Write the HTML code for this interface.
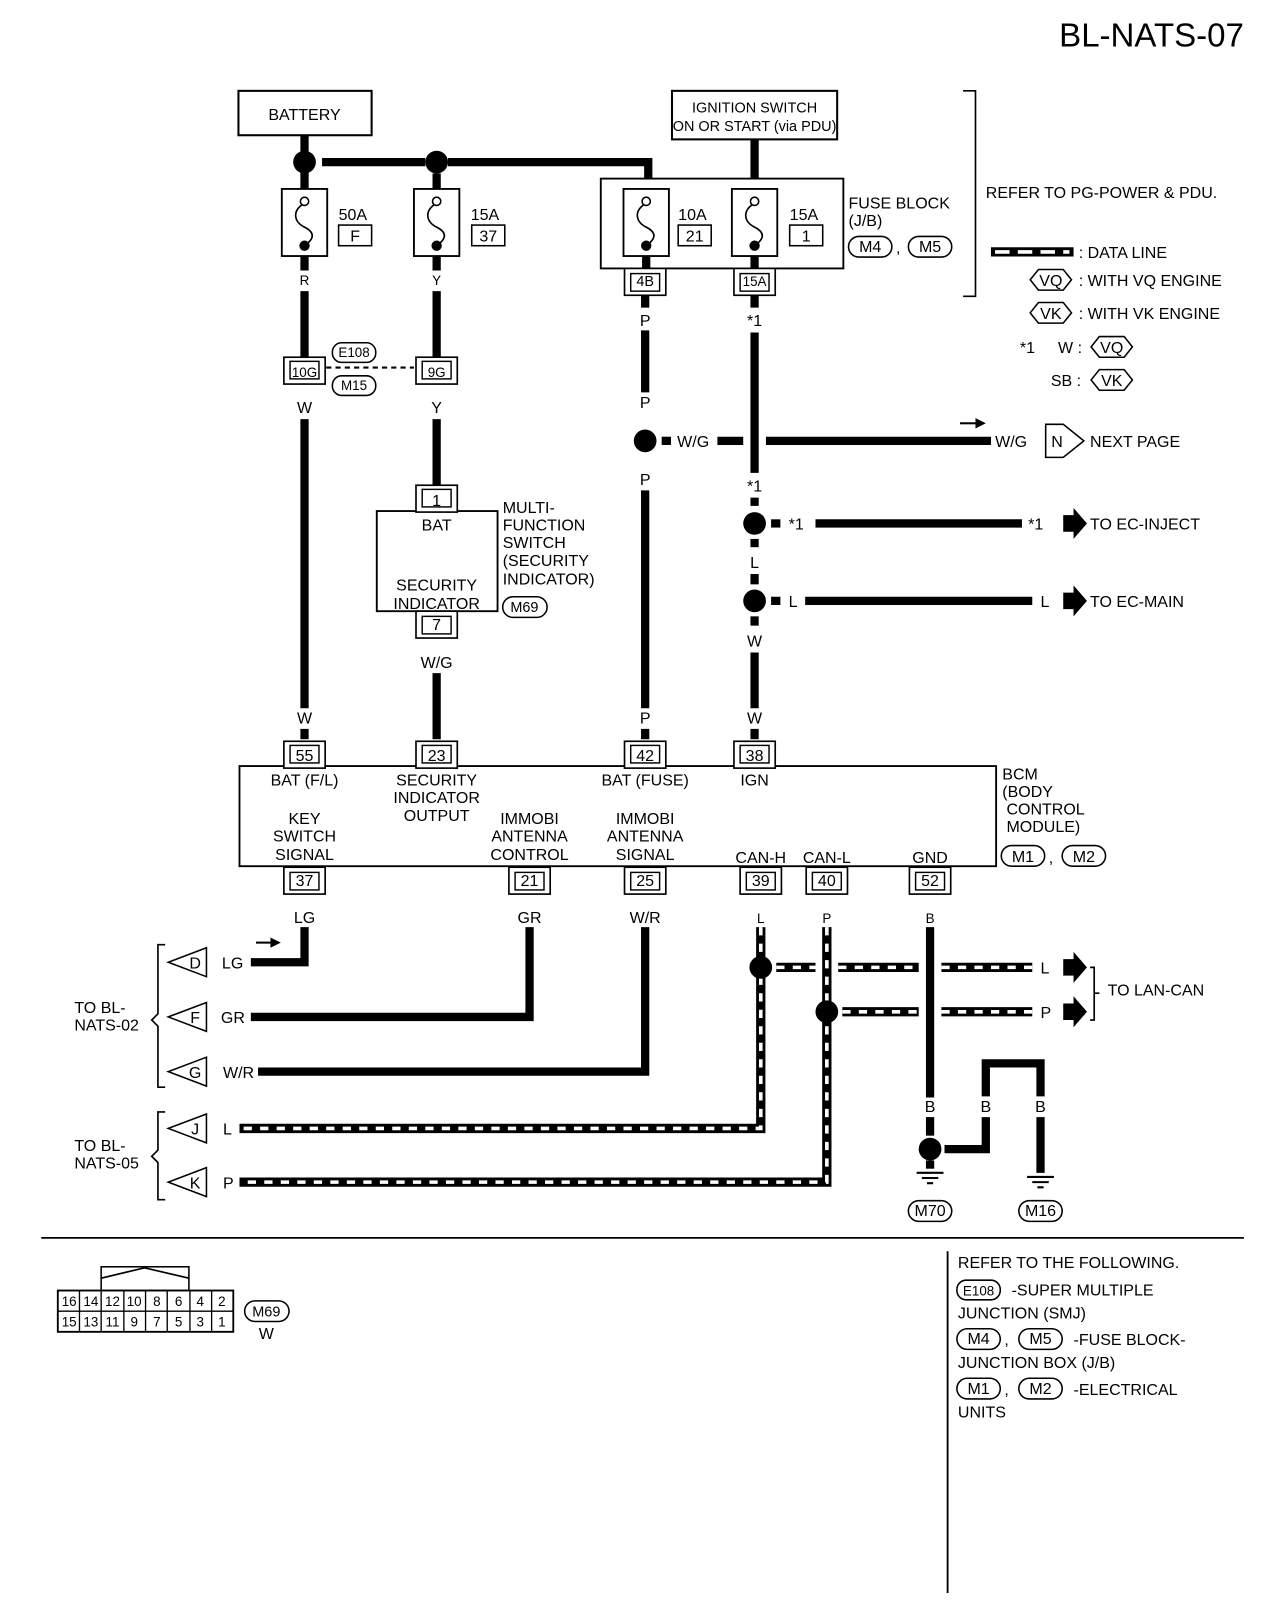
<!DOCTYPE html>
<html><head><meta charset="utf-8"><style>
html,body{margin:0;padding:0;background:#fff;}
svg{display:block}
text{font-family:"Liberation Sans",sans-serif;font-size:15.5px;fill:#000;}
.c{text-anchor:middle}
.w{stroke:#000;stroke-width:8;fill:none}
.t{stroke:#000;stroke-width:1.6;fill:none}
.dl{stroke:#000;stroke-width:9;fill:none}
.dw{stroke:#fff;stroke-width:3.5;stroke-dasharray:8 8;fill:none}
</style></head><body>
<svg width="1280" height="1624" viewBox="0 0 1240 1573" preserveAspectRatio="none" xmlns="http://www.w3.org/2000/svg">
<defs>
<g id="fuse"><rect x="-22" y="0" width="44" height="65" fill="#fff" stroke="#000" stroke-width="1.8"/><circle cx="0" cy="12" r="4" fill="#fff" stroke="#000" stroke-width="1.5"/><path d="M-2 15 C-12 22,-10 32,0 37 C10 42,10 48,0 55" class="t"/><circle cx="0" cy="55" r="5"/></g>
<g id="con"><rect x="-20" y="0" width="40" height="26" fill="#fff" stroke="#000" stroke-width="1.6"/><rect x="-14" y="4" width="28" height="17" fill="#fff" stroke="#000" stroke-width="1.4"/></g>
<g id="conb"><rect x="-20" y="0" width="40" height="26" fill="#fff" stroke="#000" stroke-width="1.6"/><rect x="-14" y="5" width="28" height="17" fill="#fff" stroke="#000" stroke-width="1.4"/></g>
</defs>

<text x="1205" y="45" style="font-size:32px" text-anchor="end">BL-NATS-07</text>

<!-- battery -->
<rect x="231" y="88" width="129" height="43" fill="#fff" stroke="#000" stroke-width="2"/>
<text class="c" x="295" y="116">BATTERY</text>
<path class="w" d="M295 131V183"/>
<path class="w" d="M312 157H412M434 157H628V183"/>
<circle cx="295" cy="157" r="11"/><circle cx="423" cy="157" r="11"/>
<path class="w" d="M423 168V183"/>
<use href="#fuse" x="295" y="183"/><use href="#fuse" x="423" y="183"/>
<text x="328" y="213">50A</text><rect x="328" y="218" width="32" height="20" fill="#fff" stroke="#000" stroke-width="1.5"/><text class="c" x="344" y="234">F</text>
<text x="456" y="213">15A</text><rect x="457" y="218" width="32" height="20" fill="#fff" stroke="#000" stroke-width="1.5"/><text class="c" x="473" y="234">37</text>
<path class="w" d="M295 248V262M423 248V262"/>
<text class="c" x="295" y="276" style="font-size:13px">R</text><text class="c" x="423" y="276" style="font-size:13px">Y</text>
<path class="w" d="M295 282V348M423 282V348"/>
<use href="#con" x="295" y="346"/><text class="c" x="295" y="365" style="font-size:13px">10G</text>
<use href="#con" x="423" y="346"/><text class="c" x="423" y="365" style="font-size:13px">9G</text>
<path d="M316 356H401" stroke="#000" stroke-width="2" stroke-dasharray="5 4"/>
<rect x="322" y="332" width="42" height="19" rx="9" fill="#fff" stroke="#000" stroke-width="1.5"/><text class="c" x="343" y="346" style="font-size:13px">E108</text>
<rect x="322" y="364" width="42" height="19" rx="9" fill="#fff" stroke="#000" stroke-width="1.5"/><text class="c" x="343" y="378" style="font-size:13px">M15</text>
<text class="c" x="295" y="400">W</text><text class="c" x="423" y="400">Y</text>
<path class="w" d="M295 406V686M423 406V472"/>
<path class="w" d="M295 706V716"/>

<!-- multi function switch -->
<rect x="365" y="495" width="117" height="97" fill="#fff" stroke="#000" stroke-width="1.8"/>
<use href="#con" x="423" y="470"/><text class="c" x="423" y="490">1</text>
<use href="#conb" x="423" y="592"/><text class="c" x="423" y="610">7</text>
<text class="c" x="423" y="514">BAT</text><text class="c" x="423" y="572">SECURITY</text><text class="c" x="423" y="590">INDICATOR</text>
<text x="487" y="497">MULTI-</text><text x="487" y="514">FUNCTION</text><text x="487" y="531">SWITCH</text><text x="487" y="548">(SECURITY</text><text x="487" y="566"> INDICATOR)</text>
<rect x="487" y="578" width="43" height="20" rx="10" fill="#fff" stroke="#000" stroke-width="1.5"/><text class="c" x="508" y="593" style="font-size:14px">M69</text>
<text class="c" x="423" y="647">W/G</text>
<path class="w" d="M423 652V716"/>

<!-- ignition + fuse block -->
<rect x="651" y="88" width="160" height="47" fill="#fff" stroke="#000" stroke-width="2"/>
<text class="c" x="731" y="109" style="font-size:14px">IGNITION SWITCH</text><text class="c" x="731" y="127" style="font-size:14px">ON OR START (via PDU)</text>
<path class="w" d="M731 135V183"/>
<rect x="582" y="173" width="235" height="87" fill="#fff" stroke="#000" stroke-width="1.8"/>
<use href="#fuse" x="626" y="183"/><use href="#fuse" x="731" y="183"/>
<text x="657" y="213">10A</text><rect x="657" y="218" width="32" height="20" fill="#fff" stroke="#000" stroke-width="1.5"/><text class="c" x="673" y="234">21</text>
<text x="765" y="213">15A</text><rect x="765" y="218" width="32" height="20" fill="#fff" stroke="#000" stroke-width="1.5"/><text class="c" x="781" y="234">1</text>
<path class="w" d="M626 248V260M731 248V260"/>
<use href="#conb" x="625" y="260"/><text class="c" x="625" y="277" style="font-size:14px">4B</text>
<use href="#conb" x="731" y="260"/><text class="c" x="731" y="277" style="font-size:13px">15A</text>
<path class="w" d="M625 286V298M731 286V298"/>
<text x="822" y="202">FUSE BLOCK</text><text x="822" y="219">(J/B)</text>
<rect x="822" y="229" width="42" height="20" rx="10" fill="#fff" stroke="#000" stroke-width="1.5"/><text class="c" x="843" y="244">M4</text>
<text x="868" y="245">,</text>
<rect x="880" y="229" width="42" height="20" rx="10" fill="#fff" stroke="#000" stroke-width="1.5"/><text class="c" x="901" y="244">M5</text>
<path class="t" d="M933 88H945V287H933"/>
<text x="955" y="192">REFER TO PG-POWER &amp; PDU.</text>

<!-- legend -->
<path class="dl" d="M960 244H1040"/><path class="dw" d="M964 244H1036" style="stroke-dasharray:14 8"/>
<text x="1045" y="250">: DATA LINE</text>
<path d="M998 271l8-10h24l8 10-8 10h-24z" fill="#fff" stroke="#000" stroke-width="1.5"/><text class="c" x="1018" y="277">VQ</text><text x="1045" y="277">: WITH VQ ENGINE</text>
<path d="M998 303l8-10h24l8 10-8 10h-24z" fill="#fff" stroke="#000" stroke-width="1.5"/><text class="c" x="1018" y="309">VK</text><text x="1045" y="309">: WITH VK ENGINE</text>
<text x="988" y="342">*1</text><text x="1025" y="342">W :</text>
<path d="M1057 336l8-10h24l8 10-8 10h-24z" fill="#fff" stroke="#000" stroke-width="1.5"/><text class="c" x="1077" y="342">VQ</text>
<text x="1018" y="374">SB :</text>
<path d="M1057 368l8-10h24l8 10-8 10h-24z" fill="#fff" stroke="#000" stroke-width="1.5"/><text class="c" x="1077" y="374">VK</text>

<!-- P wire -->
<text class="c" x="625" y="316">P</text>
<path class="w" d="M625 320V380"/>
<text class="c" x="625" y="395">P</text>
<circle cx="625" cy="427" r="11"/>
<path class="w" d="M641 427H650"/>
<text x="656" y="433">W/G</text>
<path class="w" d="M695 427H720M742 427H960"/>
<text x="964" y="433">W/G</text>
<path d="M1013 411L1030 411 1050 427 1030 443 1013 443z" fill="#fff" stroke="#000" stroke-width="1.5"/><text class="c" x="1024" y="433">N</text>
<text x="1056" y="433">NEXT PAGE</text>
<path d="M930 410H945" stroke="#000" stroke-width="2"/><path d="M945 405L955 410 945 415z"/>
<text class="c" x="625" y="470">P</text>
<path class="w" d="M625 475V686"/>
<text class="c" x="625" y="701">P</text>
<path class="w" d="M625 706V716"/>

<!-- IGN wire -->
<text class="c" x="731" y="316">*1</text>
<path class="w" d="M731 322V458"/>
<text class="c" x="731" y="476">*1</text>
<path class="w" d="M731 482V490"/>
<circle cx="731" cy="507" r="11"/>
<path class="w" d="M747 507H756"/><text x="764" y="513">*1</text>
<path class="w" d="M790 507H990"/><text x="996" y="513">*1</text>
<path d="M1030 499H1040V492L1053 507 1040 522V515H1030z"/><text x="1056" y="513">TO EC-INJECT</text>
<path class="w" d="M731 522V530"/><text class="c" x="731" y="550">L</text>
<path class="w" d="M731 556V566"/>
<circle cx="731" cy="582" r="11"/>
<path class="w" d="M747 582H756"/><text x="764" y="588">L</text>
<path class="w" d="M780 582H1000"/><text x="1008" y="588">L</text>
<path d="M1030 574H1040V567L1053 582 1040 597V590H1030z"/><text x="1056" y="588">TO EC-MAIN</text>
<path class="w" d="M731 597V606"/><text class="c" x="731" y="626">W</text>
<path class="w" d="M731 632V686"/><text class="c" x="731" y="701">W</text>
<path class="w" d="M731 706V716"/>
<text class="c" x="295" y="701">W</text>

<!-- BCM -->
<rect x="232" y="742" width="733" height="97" fill="#fff" stroke="#000" stroke-width="1.8"/>
<use href="#con" x="295" y="718"/><text class="c" x="295" y="737">55</text>
<use href="#con" x="423" y="718"/><text class="c" x="423" y="737">23</text>
<use href="#con" x="625" y="718"/><text class="c" x="625" y="737">42</text>
<use href="#con" x="731" y="718"/><text class="c" x="731" y="737">38</text>
<text class="c" x="295" y="761">BAT (F/L)</text>
<text class="c" x="423" y="761">SECURITY</text><text class="c" x="423" y="778">INDICATOR</text><text class="c" x="423" y="795">OUTPUT</text>
<text class="c" x="625" y="761">BAT (FUSE)</text>
<text class="c" x="731" y="761">IGN</text>
<text class="c" x="295" y="798">KEY</text><text class="c" x="295" y="815">SWITCH</text><text class="c" x="295" y="833">SIGNAL</text>
<text class="c" x="513" y="798">IMMOBI</text><text class="c" x="513" y="815">ANTENNA</text><text class="c" x="513" y="833">CONTROL</text>
<text class="c" x="625" y="798">IMMOBI</text><text class="c" x="625" y="815">ANTENNA</text><text class="c" x="625" y="833">SIGNAL</text>
<text class="c" x="737" y="836">CAN-H</text><text class="c" x="801" y="836">CAN-L</text><text class="c" x="901" y="836">GND</text>
<text x="971" y="755">BCM</text><text x="971" y="772">(BODY</text><text x="975" y="789">CONTROL</text><text x="975" y="806">MODULE)</text>
<rect x="970" y="819" width="42" height="20" rx="10" fill="#fff" stroke="#000" stroke-width="1.5"/><text class="c" x="991" y="835">M1</text>
<text x="1016" y="836">,</text>
<rect x="1029" y="819" width="42" height="20" rx="10" fill="#fff" stroke="#000" stroke-width="1.5"/><text class="c" x="1050" y="835">M2</text>
<use href="#conb" x="295" y="840"/><text class="c" x="295" y="858">37</text>
<use href="#conb" x="513" y="840"/><text class="c" x="513" y="858">21</text>
<use href="#conb" x="625" y="840"/><text class="c" x="625" y="858">25</text>
<use href="#conb" x="737" y="840"/><text class="c" x="737" y="858">39</text>
<use href="#conb" x="801" y="840"/><text class="c" x="801" y="858">40</text>
<use href="#conb" x="901" y="840"/><text class="c" x="901" y="858">52</text>
<text class="c" x="295" y="894">LG</text><text class="c" x="513" y="894">GR</text><text class="c" x="625" y="894">W/R</text>
<text class="c" x="737" y="894" style="font-size:13px">L</text><text class="c" x="801" y="894" style="font-size:13px">P</text><text class="c" x="901" y="894" style="font-size:13px">B</text>

<!-- lower wires -->
<path class="w" d="M295 898V932H243"/><text x="215" y="938">LG</text>
<path d="M248 913H262" stroke="#000" stroke-width="2"/><path d="M262 908L272 913 262 918z"/>
<path class="w" d="M513 898V985H243"/><text x="214" y="991">GR</text>
<path class="w" d="M625 898V1038H250"/><text x="216" y="1044">W/R</text>
<path d="M200 918V946L163 932z" fill="#fff" stroke="#000" stroke-width="1.5"/><text class="c" x="189" y="938">D</text>
<path d="M200 971V999L163 985z" fill="#fff" stroke="#000" stroke-width="1.5"/><text class="c" x="189" y="991">F</text>
<path d="M200 1024V1052L163 1038z" fill="#fff" stroke="#000" stroke-width="1.5"/><text class="c" x="189" y="1044">G</text>
<path d="M200 1079V1107L163 1093z" fill="#fff" stroke="#000" stroke-width="1.5"/><text class="c" x="189" y="1099">J</text>
<path d="M200 1131V1159L163 1145z" fill="#fff" stroke="#000" stroke-width="1.5"/><text class="c" x="189" y="1151">K</text>
<text x="216" y="1099">L</text><text x="216" y="1151">P</text>

<path class="dl" d="M737 898V1093H232"/><path class="dw" d="M737 898V1093H232"/>
<path class="dl" d="M801 898V1145H232"/><path class="dw" d="M801 898V1145H232"/>
<path class="dl" d="M752 937H790M812 937H890M912 937H1000"/><path class="dw" d="M752 937H790M812 937H890M912 937H1000"/>
<path class="dl" d="M816 980H890M912 980H1000"/><path class="dw" d="M816 980H890M912 980H1000"/>
<circle cx="737" cy="937" r="11"/><circle cx="801" cy="980" r="11"/>
<text x="1008" y="943">L</text><text x="1008" y="986">P</text>
<path d="M1030 929H1040V922L1053 937 1040 952V945H1030z"/>
<path d="M1030 972H1040V965L1053 980 1040 995V988H1030z"/>
<path class="t" d="M1056 937H1060V988H1056M1060 962H1065"/>
<text x="1073" y="964">TO LAN-CAN</text>

<path class="w" d="M901 898V1063"/><text class="c" x="901" y="1077">B</text>
<path class="w" d="M901 1082V1100"/><circle cx="901" cy="1113" r="11"/>
<path class="w" d="M915 1113H955V1082"/><text class="c" x="955" y="1077">B</text>
<path class="w" d="M955 1062V1030H1008V1062"/><text class="c" x="1008" y="1077">B</text>
<path class="w" d="M1008 1082V1136"/>
<path class="w" d="M901 1124V1132"/>
<path d="M888 1136H914M893 1141H909M898 1146H904M995 1140H1021M1000 1145H1016M1005 1150H1011" stroke="#000" stroke-width="2"/>
<rect x="880" y="1163" width="42" height="20" rx="10" fill="#fff" stroke="#000" stroke-width="1.5"/><text class="c" x="901" y="1178">M70</text>
<rect x="987" y="1163" width="42" height="20" rx="10" fill="#fff" stroke="#000" stroke-width="1.5"/><text class="c" x="1008" y="1178">M16</text>

<path class="t" d="M160 915H153V982L147 988 153 994V1053H160"/>
<text x="72" y="981">TO BL-</text><text x="72" y="998">NATS-02</text>
<path class="t" d="M160 1077H153V1114L147 1120 153 1126V1162H160"/>
<text x="72" y="1115">TO BL-</text><text x="72" y="1132">NATS-05</text>

<!-- bottom -->
<path d="M40 1199H1205" stroke="#000" stroke-width="1.8"/>
<path d="M918 1212V1543" stroke="#000" stroke-width="1.8"/>
<text x="928" y="1228">REFER TO THE FOLLOWING.</text>
<rect x="927" y="1240" width="42" height="19" rx="9" fill="#fff" stroke="#000" stroke-width="1.5"/><text class="c" x="948" y="1255" style="font-size:13px">E108</text>
<text x="980" y="1255">-SUPER MULTIPLE</text><text x="928" y="1277">JUNCTION (SMJ)</text>
<rect x="927" y="1287" width="42" height="20" rx="10" fill="#fff" stroke="#000" stroke-width="1.5"/><text class="c" x="948" y="1302">M4</text>
<text x="973" y="1303">,</text>
<rect x="987" y="1287" width="42" height="20" rx="10" fill="#fff" stroke="#000" stroke-width="1.5"/><text class="c" x="1008" y="1302">M5</text>
<text x="1040" y="1303">-FUSE BLOCK-</text><text x="928" y="1325">JUNCTION BOX (J/B)</text>
<rect x="927" y="1335" width="42" height="20" rx="10" fill="#fff" stroke="#000" stroke-width="1.5"/><text class="c" x="948" y="1350">M1</text>
<text x="973" y="1351">,</text>
<rect x="987" y="1335" width="42" height="20" rx="10" fill="#fff" stroke="#000" stroke-width="1.5"/><text class="c" x="1008" y="1350">M2</text>
<text x="1040" y="1351">-ELECTRICAL</text><text x="928" y="1373">UNITS</text>

<rect x="98" y="1227" width="85" height="23" fill="#fff" stroke="#000" stroke-width="1.5"/>
<path d="M98 1238L140 1228 183 1238" class="t"/>
<rect x="56" y="1250" width="170" height="40" fill="#fff" stroke="#000" stroke-width="1.8"/>
<path d="M56 1270H226M77 1250V1290M98 1250V1290M120 1250V1290M141 1250V1290M162 1250V1290M184 1250V1290M205 1250V1290" stroke="#000" stroke-width="1.3"/>
<text class="c" x="67" y="1265" style="font-size:13px">16</text><text class="c" x="88" y="1265" style="font-size:13px">14</text><text class="c" x="109" y="1265" style="font-size:13px">12</text><text class="c" x="130" y="1265" style="font-size:13px">10</text><text class="c" x="152" y="1265" style="font-size:13px">8</text><text class="c" x="173" y="1265" style="font-size:13px">6</text><text class="c" x="194" y="1265" style="font-size:13px">4</text><text class="c" x="215" y="1265" style="font-size:13px">2</text>
<text class="c" x="67" y="1285" style="font-size:13px">15</text><text class="c" x="88" y="1285" style="font-size:13px">13</text><text class="c" x="109" y="1285" style="font-size:13px">11</text><text class="c" x="130" y="1285" style="font-size:13px">9</text><text class="c" x="152" y="1285" style="font-size:13px">7</text><text class="c" x="173" y="1285" style="font-size:13px">5</text><text class="c" x="194" y="1285" style="font-size:13px">3</text><text class="c" x="215" y="1285" style="font-size:13px">1</text>
<rect x="237" y="1260" width="43" height="20" rx="10" fill="#fff" stroke="#000" stroke-width="1.5"/><text class="c" x="258" y="1275" style="font-size:14px">M69</text>
<text class="c" x="258" y="1297">W</text>
</svg>
</body></html>
